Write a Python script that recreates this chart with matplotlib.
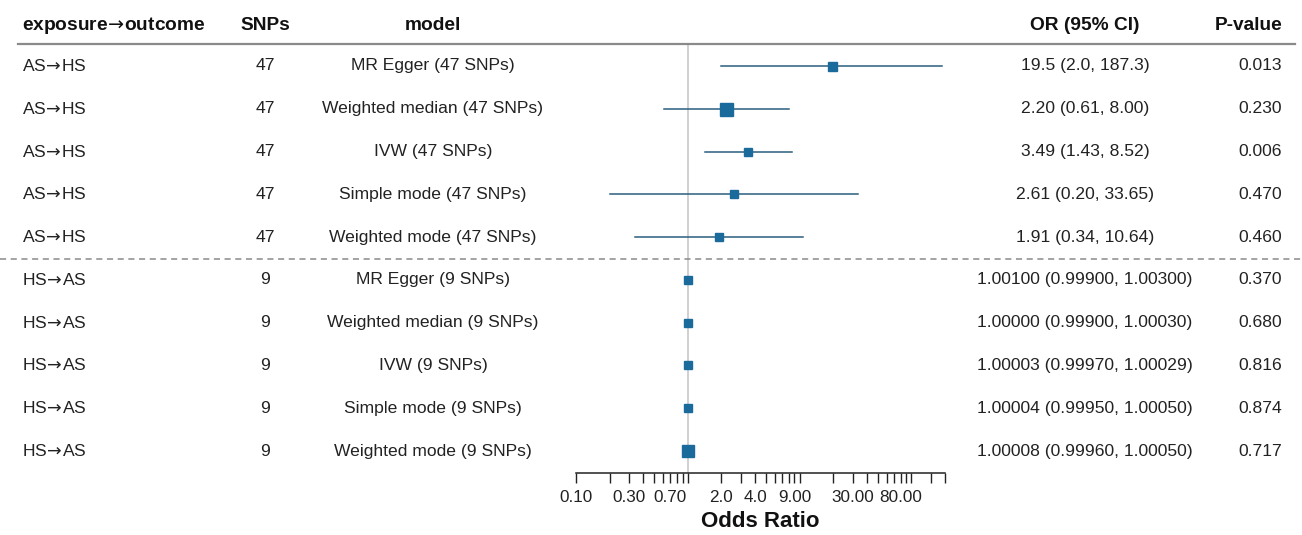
import matplotlib
matplotlib.use("Agg")
import matplotlib.pyplot as plt
import matplotlib.transforms as mtransforms
from matplotlib.lines import Line2D

plt.rcParams['font.family'] = ['Liberation Sans', 'DejaVu Sans']
plt.rcParams['mathtext.fontset'] = 'dejavusans'

# ---------------- data ----------------
exposure_outcome = ["AS→HS"] * 5 + ["HS→AS"] * 5
snps = [47, 47, 47, 47, 47, 9, 9, 9, 9, 9]
models = ["MR Egger (47 SNPs)", "Weighted median (47 SNPs)", "IVW (47 SNPs)",
          "Simple mode (47 SNPs)", "Weighted mode (47 SNPs)",
          "MR Egger (9 SNPs)", "Weighted median (9 SNPs)", "IVW (9 SNPs)",
          "Simple mode (9 SNPs)", "Weighted mode (9 SNPs)"]
or_est = [19.5, 2.20, 3.49, 2.61, 1.91, 1.00100, 1.00000, 1.00003, 1.00004, 1.00008]
or_low = [2.0, 0.61, 1.43, 0.20, 0.34, 0.99900, 0.99900, 0.99970, 0.99950, 0.99960]
or_high = [187.3, 8.00, 8.52, 33.65, 10.64, 1.00300, 1.00030, 1.00029, 1.00050, 1.00050]
or_text = ["19.5 (2.0, 187.3)", "2.20 (0.61, 8.00)", "3.49 (1.43, 8.52)",
           "2.61 (0.20, 33.65)", "1.91 (0.34, 10.64)",
           "1.00100 (0.99900, 1.00300)", "1.00000 (0.99900, 1.00030)",
           "1.00003 (0.99970, 1.00029)", "1.00004 (0.99950, 1.00050)",
           "1.00008 (0.99960, 1.00050)"]
p_values = ["0.013", "0.230", "0.006", "0.470", "0.460",
            "0.370", "0.680", "0.816", "0.874", "0.717"]
headers = ["exposure→outcome", "SNPs", "model", "OR (95% CI)", "P-value"]
tick_values = [0.1, 0.2, 0.3, 0.4, 0.5, 0.6, 0.7, 0.8, 0.9, 1,
               2, 3, 4, 5, 6, 7, 8, 9, 10,
               20, 30, 40, 50, 60, 70, 80, 90, 100, 150, 200]
tick_labels = {0.1: "0.10", 0.3: "0.30", 0.7: "0.70", 2: "2.0", 4: "4.0",
               9: "9.00", 30: "30.00", 80: "80.00"}

# ---------------- style ----------------
W, H = 1302, 535
box_px = [9, 13, 8.5, 8.5, 8.5, 8.5, 8, 8, 8, 12.5]
box_color = "#1b6a9c"
ci_color = "#2a5f7e"
fs = 12.6
fs_head = 13.8


def arrowize(s):
    # draw the arrow glyph with the wider DejaVu arrow via mathtext
    return s.replace("→", r"$\!\rightarrow\!$")


fig = plt.figure(figsize=(W / 100, H / 100), dpi=100)
ax_left, ax_right = 576, 945
ax_top, ax_bot = 44, 473
ax = fig.add_axes([ax_left / W, 1 - ax_bot / H, (ax_right - ax_left) / W, (ax_bot - ax_top) / H])
ax.set_xscale("log")
ax.set_xlim(0.1, 200)
n = len(models)
pad = 0.514
ax.set_ylim(n - 1 + pad, -pad)
ax.patch.set_alpha(0)

for s in ["top", "right", "left"]:
    ax.spines[s].set_visible(False)
ax.spines["bottom"].set_color("#222222")
ax.spines["bottom"].set_linewidth(1.1)
ax.set_yticks([])
ax.set_xticks(tick_values)
ax.set_xticks([], minor=True)
ax.set_xticklabels([tick_labels.get(v, "") for v in tick_values], fontsize=12.3, color="#222222")
ax.tick_params(axis="x", which="major", direction="out", length=7, width=1.0, color="#222222", pad=5.5)
ax.set_xlabel("Odds Ratio", fontsize=16, fontweight="bold", labelpad=4, color="#111111")

# reference line at 1
ax.axvline(1, color="#c8c8c8", lw=1.2, zorder=0)

for i in range(n):
    ax.plot([or_low[i], or_high[i]], [i, i], color=ci_color, lw=1.1, zorder=2)
    ax.plot([or_est[i]], [i], marker="s", ms=box_px[i] * 0.72, color=box_color,
            mec=box_color, zorder=3)

# text columns: x in figure pixels, y in axes data rows
trans = mtransforms.blended_transform_factory(
    mtransforms.Affine2D().scale(1 / W, 1) + fig.transFigure, ax.transData)

col_x = [22, 265, 433, 1085, 1282]
col_ha = ["left", "center", "center", "center", "right"]
header_y = -pad - (44 - 25) / 42.8
for j, h in enumerate(headers):
    fig.text(col_x[j], header_y, arrowize(h), transform=trans, ha=col_ha[j], va="center",
             fontsize=fs_head, fontweight="bold", color="#111111")

for i in range(n):
    vals = [arrowize(exposure_outcome[i]), str(snps[i]), models[i], or_text[i], p_values[i]]
    for j, v in enumerate(vals):
        fig.text(col_x[j], i, v, transform=trans, ha=col_ha[j], va="center",
                 fontsize=fs, color="#222222")

# header rule and group separator
fig.add_artist(Line2D([18 / W, 1295 / W], [1 - 44 / H, 1 - 44 / H], transform=fig.transFigure,
                      color="#8a8a8a", lw=1.6))
sep_y = (n - 1) / 2
fig.add_artist(Line2D([0, W], [sep_y, sep_y], transform=trans, color="#8a8a8a",
                      lw=1.1, ls=(0, (4, 3))))

fig.savefig("out.png", dpi=100, facecolor="white")
